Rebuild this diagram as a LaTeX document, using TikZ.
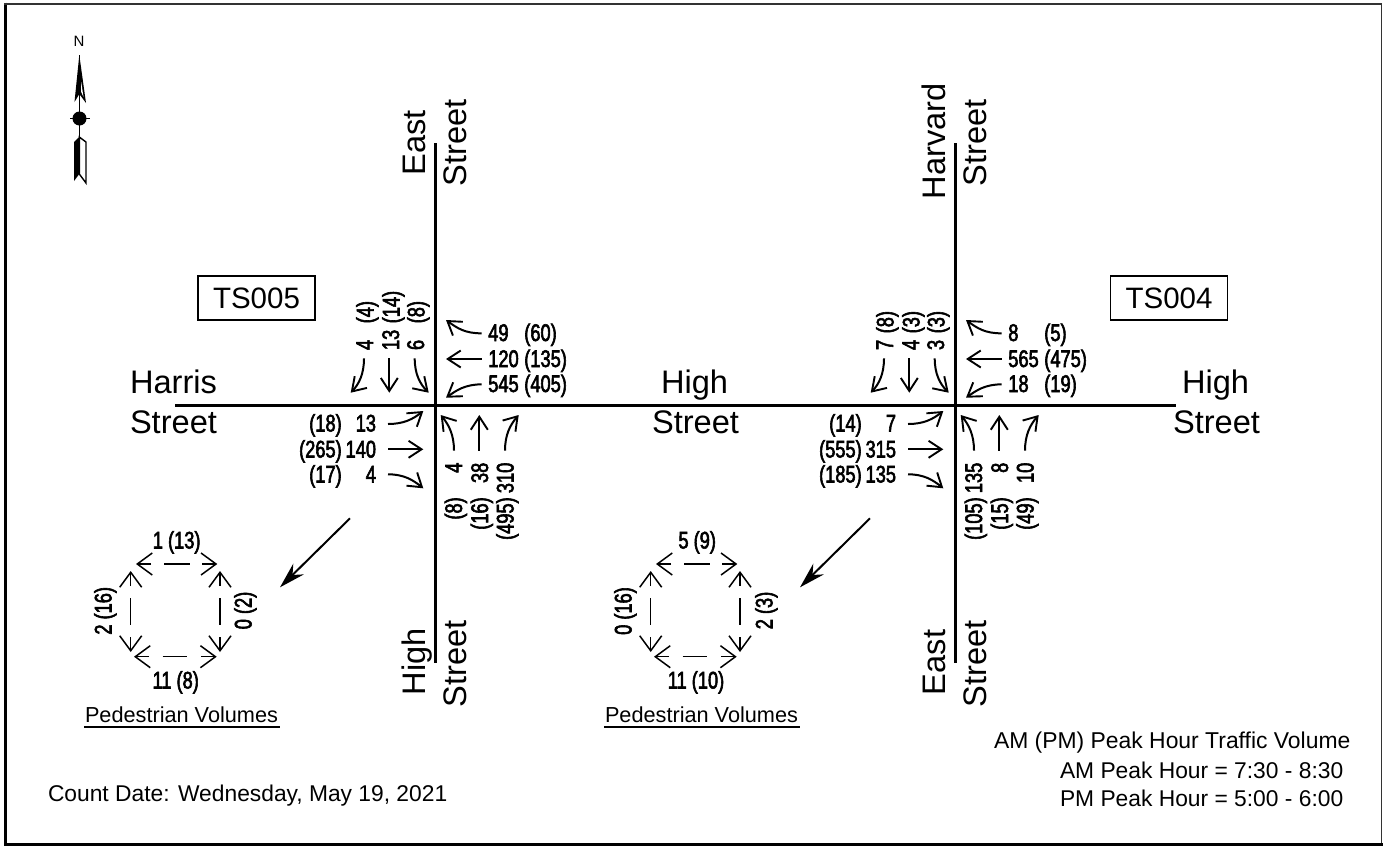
\documentclass[tikz,border=0pt]{standalone}
\usepackage{fontspec}
\usetikzlibrary{arrows.meta}
\setmainfont{Liberation Sans}
\newfontfamily\numfam[FakeStretch=0.76,FakeBold=2.4]{Liberation Sans}
\newcommand{\numfnt}{\numfam\fontsize{24}{26}\selectfont}
\tikzset{
  base/.style={inner sep=0pt,outer sep=0pt},
  road/.style={base,anchor=base west,font=\fontsize{32.6}{34}\selectfont},
  vroad/.style={road,rotate=90},
  txt/.style={base,anchor=base west,font=\fontsize{22.8}{24}\selectfont},
  numL/.style={base,anchor=base west,font=\numfnt},
  numR/.style={base,anchor=base east,font=\numfnt},
  numU/.style={base,anchor=base west,rotate=90,font=\numfnt},
  numD/.style={base,anchor=base east,rotate=90,font=\numfnt},
  numC/.style={base,anchor=base,font=\numfnt},
  numCV/.style={base,anchor=base,rotate=90,font=\numfnt},
  roadline/.style={line width=3pt},
  turn/.style={line width=2pt,-{Straight Barb[length=13pt,width=17pt,line width=1.9pt]}},
  ped/.style={line width=1.5pt,-{Straight Barb[length=15pt,width=22pt,line width=1.5pt]}},
  pedd/.style={line width=1.5pt},
  big/.style={line width=2pt,-{Stealth[length=26pt,width=15pt]}},
  tsbox/.style={base,draw,line width=1.6pt,minimum width=117pt,minimum height=44pt,font=\fontsize{29.5}{32}\selectfont},
}
\newcommand{\turnarrows}{%
  \draw[turn] (481.7,333.3) .. controls (465,333.5) and (457,328) .. (446,320);
  \draw[turn] (481.7,359) -- (446,359);
  \draw[turn] (481.7,384.3) .. controls (465,384.5) and (457,390) .. (446,397.7);
  \draw[turn] (364,358.3) .. controls (364,374) and (359,384) .. (350.7,392.7);
  \draw[turn] (389.3,358.3) -- (389.3,392.7);
  \draw[turn] (414.7,358.3) .. controls (414.7,374) and (420,384) .. (428.7,392.7);
  \draw[turn] (388,424) .. controls (404,424) and (413,419) .. (423.3,411);
  \draw[turn] (388,449.3) -- (423.3,449.3);
  \draw[turn] (388,474.3) .. controls (404,474.3) and (413,480) .. (423.3,488.3);
  \draw[turn] (454,450.7) .. controls (454,435) and (449,425) .. (440.7,415);
  \draw[turn] (479.3,450.7) -- (479.3,415);
  \draw[turn] (505,450.7) .. controls (505,435) and (510,425) .. (518.7,415);
}
\newcommand{\pedring}{%
  \draw[ped] (151,564) -- (136,564);
  \draw[pedd] (164,564) -- (190,564);
  \draw[ped] (202,564) -- (217.3,564);
  \draw[ped] (149,656.7) -- (134,656.7);
  \draw[pedd] (162.7,656.7) -- (187.3,656.7);
  \draw[ped] (201,656.7) -- (216.7,656.7);
  \draw[ped] (130.7,586) -- (130.7,571);
  \draw[pedd] (130.7,598) -- (130.7,625);
  \draw[ped] (130.7,637) -- (130.7,652);
  \draw[ped] (220,586) -- (220,571);
  \draw[pedd] (220,598) -- (220,625);
  \draw[ped] (220,637) -- (220,652);
  \draw[big] (350,518.3) -- (280,587.3);
  \draw[line width=1.6pt] (84,727) -- (280,727);
}
\begin{document}
\begin{tikzpicture}[x=1pt,y=-1pt]
\useasboundingbox (0,0) rectangle (1388,846);
\fill[white] (0,0) rectangle (1388,846);
% frame
\draw[line width=3pt] (5.5,2.5) -- (5.5,846);
\draw[line width=2pt,black!80] (4,3.5) -- (1382,3.5);
\draw[line width=1.5pt,black!80] (1381.7,3) -- (1381.7,845);
\draw[line width=2.2pt] (4,844.5) -- (1382.5,844.5);
% roads
\draw[roadline] (175,405) -- (1176,405);
\draw[roadline] (435.5,143) -- (435.5,663);
\draw[roadline] (955.3,143) -- (955.3,663);
% north arrow
\fill (79.3,55) -- (86,103) -- (79.3,94) -- (74.5,102) -- cycle;
\fill[white] (81.2,82) -- (83.5,97) -- (81.2,92) -- cycle;
\draw[line width=1.6pt] (79.3,55) -- (79.3,155);
\fill (79.5,118.5) circle (7);
\draw[line width=1.6pt] (70,118.5) -- (90,118.5);
\draw[line width=1.4pt,fill=white] (79.3,137) -- (86,142) -- (86,183) -- (79.3,174) -- cycle;
\fill (79.3,137) -- (74,142) -- (74,181) -- (79.3,174) -- cycle;
\node[base,anchor=base,font=\fontsize{15}{16}\selectfont] (north) at (79,46) {N};
% street names
\node[vroad] (eastA) at (425,175.5) {East};
\node[vroad] (streetA) at (466,186) {Street};
\node[vroad] (harv) at (945,199) {Harvard};
\node[vroad] (streetB) at (986,186) {Street};
\node[vroad] (highS) at (425,695) {High};
\node[vroad] (streetC) at (466,707) {Street};
\node[vroad] (eastS) at (945,695) {East};
\node[vroad] (streetD) at (986,707) {Street};
\node[road] (harris) at (130,393) {Harris};
\node[road] (streetE) at (130,433) {Street};
\node[road] (highM) at (661,393) {High};
\node[road] (streetF) at (652,433) {Street};
\node[road] (highE) at (1182,393) {High};
\node[road] (streetG) at (1173,433) {Street};
% boxes
\node[tsbox] (ts5) at (256.5,298) {TS005};
\node[tsbox] (ts4) at (1169,298) {TS004};
% intersection 1
\turnarrows
\foreach \n/\x/\y/\t in {a1/488.3/341/49,a2/488.3/367/120,a3/488.3/392/545,
  a4/524.3/341/(60),a5/524.3/367/(135),a6/524.3/392/(405)}
  \node[numL] (\n) at (\x,\y) {\t};
\foreach \n/\x/\y/\t in {a7/341.7/431.5/(18),a8/341.7/457.5/(265),a9/341.7/482.5/(17),
  a10/376/431.5/13,a11/376/457.5/140,a12/376/482.5/4}
  \node[numR] (\n) at (\x,\y) {\t};
\foreach \n/\x/\y/\t in {a13/373/350/4,a14/399/350/13,a15/424/350/6,
  a16/373.5/323.3/(4),a17/399.5/323.3/(14),a18/424.5/323.3/(8)}
  \node[numU] (\n) at (\x,\y) {\t};
\foreach \n/\x/\y/\t in {a19/462/462.7/4,a20/488/462.7/38,a21/513.5/462.7/310,
  a22/462/497.3/(8),a23/488/497.3/(16),a24/513.5/497.3/(495)}
  \node[numD] (\n) at (\x,\y) {\t};
% ring 1
\pedring
\node[numC] (p1) at (176.7,548.5) {1 (13)};
\node[numC] (p2) at (175.7,688.5) {11 (8)};
\node[numCV] (p3) at (111.5,610.8) {2 (16)};
\node[numCV] (p4) at (251.5,610.5) {0 (2)};
\node[txt,font=\fontsize{21.7}{24}\selectfont] (pv1) at (85,722.5) {Pedestrian Volumes};
% intersection 2 and ring 2
\begin{scope}[xshift=520pt]
\turnarrows
\pedring
\end{scope}
\foreach \n/\x/\y/\t in {b1/1008.3/341/8,b2/1008.3/367/565,b3/1008.3/392/18,
  b4/1044.3/341/(5),b5/1044.3/367/(475),b6/1044.3/392/(19)}
  \node[numL] (\n) at (\x,\y) {\t};
\foreach \n/\x/\y/\t in {b7/861.7/431.5/(14),b8/861.7/457.5/(555),b9/861.7/482.5/(185),
  b10/896/431.5/7,b11/896/457.5/315,b12/896/482.5/135}
  \node[numR] (\n) at (\x,\y) {\t};
\foreach \n/\x/\y/\t in {b13/893/350/7,b14/919/350/4,b15/944/350/3,
  b16/893.5/333.3/(8),b17/919.5/333.3/(3),b18/944.5/333.3/(3)}
  \node[numU] (\n) at (\x,\y) {\t};
\foreach \n/\x/\y/\t in {b19/982/462.7/135,b20/1008/462.7/8,b21/1033.5/462.7/10,
  b22/982/497.3/(105),b23/1008/497.3/(15),b24/1033.5/497.3/(49)}
  \node[numD] (\n) at (\x,\y) {\t};
\node[numC] (q1) at (697.2,548.5) {5 (9)};
\node[numC] (q2) at (696,688.5) {11 (10)};
\node[numCV] (q3) at (631.5,611) {0 (16)};
\node[numCV] (q4) at (772.5,610.5) {2 (3)};
\node[txt,font=\fontsize{21.7}{24}\selectfont] (pv2) at (605,722.5) {Pedestrian Volumes};
% notes
\node[txt] (cnt) at (48,801) {Count Date: Wednesday, May 19, 2021};
\node[txt,font=\fontsize{22.9}{24}\selectfont] (leg1) at (994,748.3) {AM (PM) Peak Hour Traffic Volume};
\node[txt] (leg2) at (1060,778.3) {AM Peak Hour = 7:30 - 8:30};
\node[txt] (leg3) at (1060,806) {PM Peak Hour = 5:00 - 6:00};
\end{tikzpicture}
\end{document}
